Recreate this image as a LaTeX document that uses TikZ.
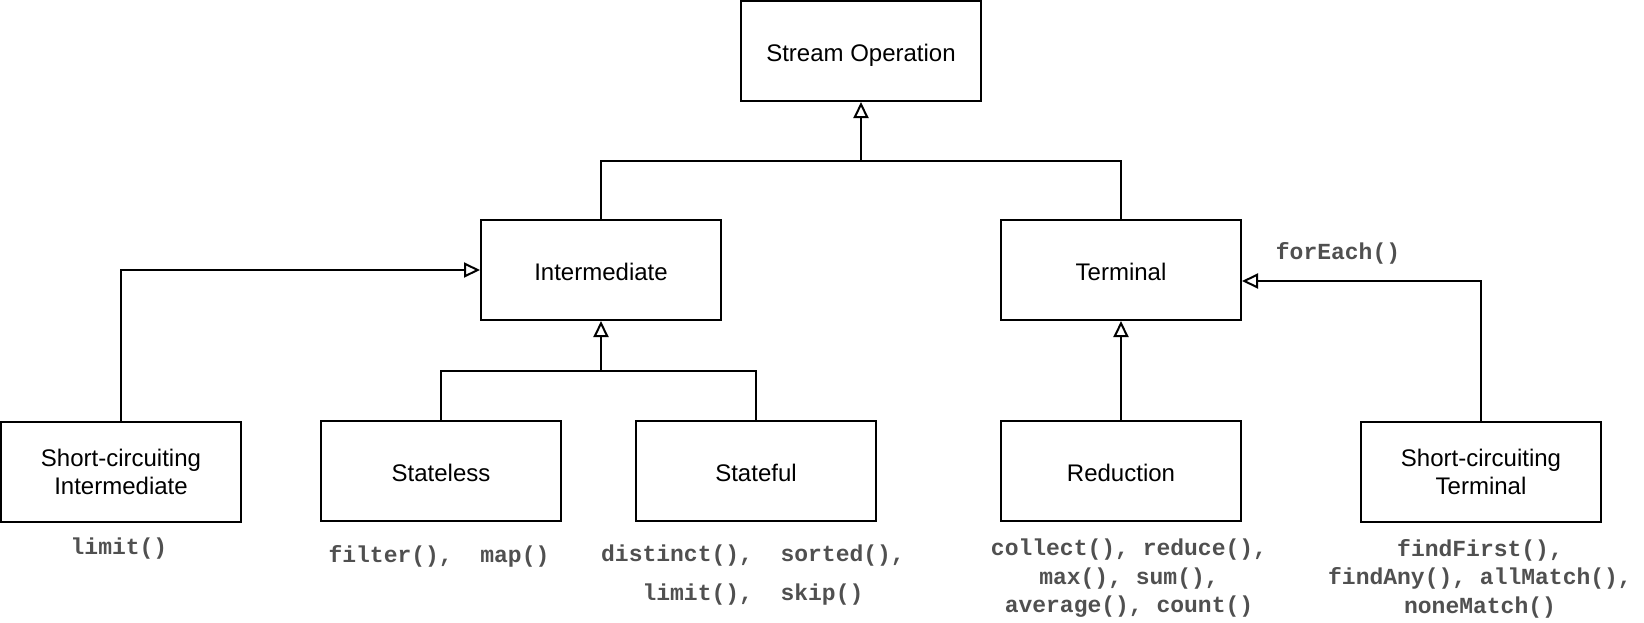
\documentclass[tikz,border=0pt]{standalone}
\usepackage{fontspec}
\setmainfont{Liberation Sans}
\setmonofont{Liberation Mono}
\usetikzlibrary{arrows.meta}
\definecolor{codegray}{RGB}{80,80,80}
\begin{document}
\begin{tikzpicture}[x=0.5pt,y=-0.5pt,
  box/.style={draw,line width=1pt,minimum width=120pt,minimum height=50pt,inner sep=0pt,
    font=\fontsize{12}{14}\selectfont,align=center},
  boxone/.style={box,text height=10.2pt,text depth=0pt},
  code/.style={font=\fontsize{11.5}{14.25}\selectfont\ttfamily\bfseries,text=codegray,align=center,inner sep=0pt},
  codewide/.style={code,font=\fontsize{11.5}{19.4}\selectfont\ttfamily\bfseries},
  conn/.style={line width=1pt},
  inh/.style={line width=1pt,-{Triangle[open,length=8pt,width=7.5pt,fill=white]}}]
\useasboundingbox (0,0) rectangle (1644,622);

\node[boxone] (so)   at (861,51)  {Stream Operation};
\node[boxone] (int)  at (601,270) {Intermediate};
\node[boxone] (term) at (1121,270) {Terminal};
\node[box] (sci)  at (121,472) {Short-circuiting\\Intermediate};
\node[boxone] (sl)   at (441,471) {Stateless};
\node[boxone] (sf)   at (756,471) {Stateful};
\node[boxone] (red)  at (1121,471) {Reduction};
\node[box] (sct)  at (1481,472) {Short-circuiting\\Terminal};

\coordinate (j1) at (861,161);
\coordinate (j2) at (601,371);

\draw[conn] (int.north) |- (j1);
\draw[conn] (term.north) |- (j1);
\draw[inh] (j1) -- (so.south);

\draw[conn] (sl.north) |- (j2);
\draw[conn] (sf.north) |- (j2);
\draw[inh] (j2) -- (int.south);

\draw[inh] (sci.north) |- (int.west);
\draw[inh] (red.north) -- (term.south);
\draw[inh] (sct.north) |- ([yshift=-5.5pt]term.east);

\node[code] (lforeach) at (1338,253) {forEach()};
\node[code] (llimit) at (119,549) {limit()};
\node[code] (lsl) at (439,556) {filter(),~~map()};
\node[codewide] (lsf) at (753,575) {distinct(),~~sorted(),\\limit(),~~skip()};
\node[code] (lred) at (1129,578.5) {collect(), reduce(),\\max(), sum(),\\average(), count()};
\node[code] (lsct) at (1480,578.5) {findFirst(),\\findAny(), allMatch(),\\noneMatch()};
\end{tikzpicture}
\end{document}
